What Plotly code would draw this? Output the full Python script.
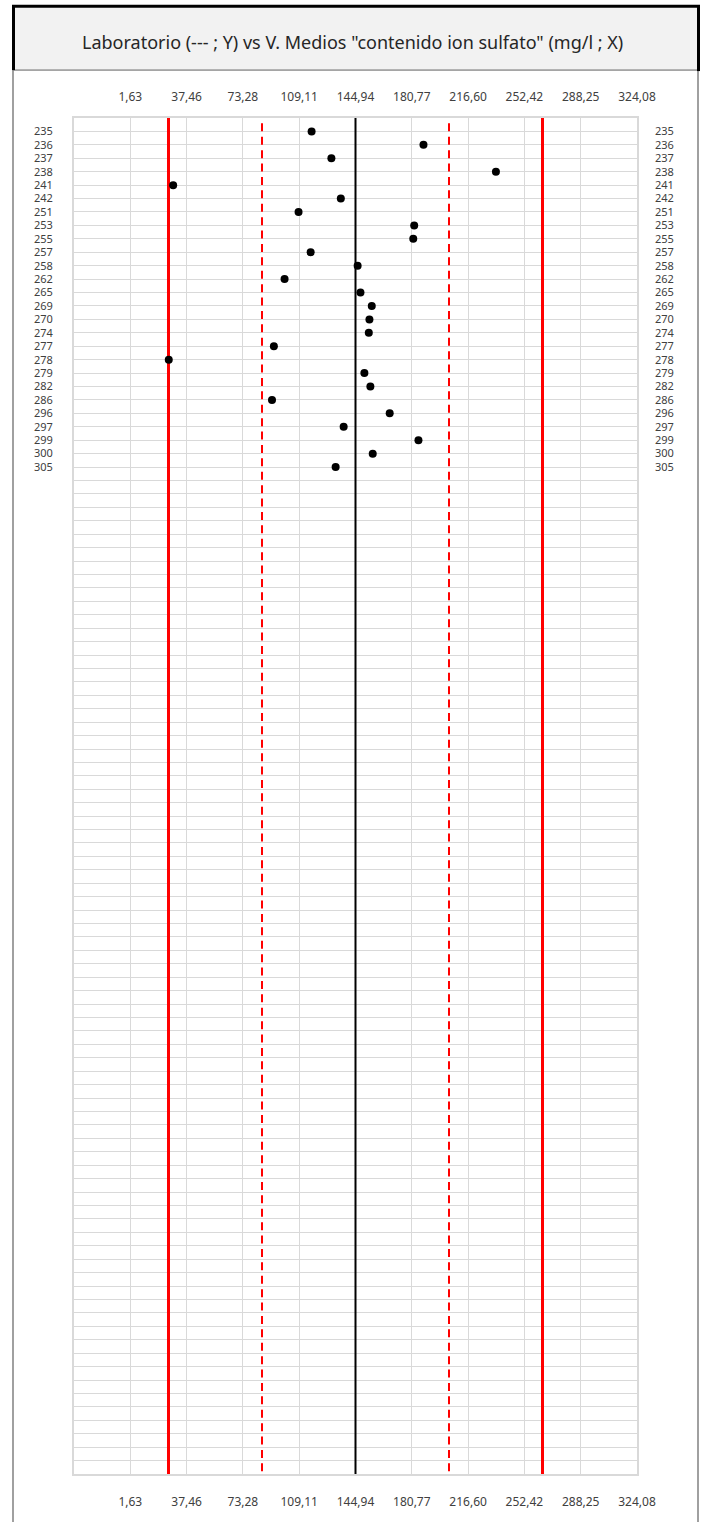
import plotly.graph_objects as go

# ---------------- data ----------------
labs = ["235", "236", "237", "238", "241", "242", "251", "253", "255", "257",
        "258", "262", "265", "269", "270", "274", "277", "278", "279", "282",
        "286", "296", "297", "299", "300", "305"]
values = [117.0, 188.2, 129.6, 234.3, 28.9, 135.6, 108.7, 182.3, 181.7, 116.4,
          146.3, 99.8, 148.1, 155.3, 153.8, 153.4, 93.0, 26.1, 150.6, 154.4,
          91.8, 166.7, 137.4, 185.0, 155.9, 132.3]

mean_value = 144.94
warn_limits = [85.44, 204.44]      # dashed red
action_limits = [25.94, 263.94]    # solid red

x_tick_values = [1.63, 37.46, 73.28, 109.11, 144.94, 180.77, 216.60, 252.42, 288.25, 324.08]
x_tick_labels = ["1,63", "37,46", "73,28", "109,11", "144,94", "180,77", "216,60", "252,42", "288,25", "324,08"]

n_rows = 100  # total rows in the chart grid

title_text = 'Laboratorio (--- ; Y) vs V. Medios "contenido ion sulfato" (mg/l ; X)'

# ---------------- geometry ----------------
W, H = 704, 1522
ML, MR, MT, MB = 74, 67, 118, 46
PW, PH = W - ML - MR, H - MT - MB

def pxx(px):
    return (px - ML) / PW

def pxy(py):
    return (H - MB - py) / PH

step = x_tick_values[1] - x_tick_values[0]
x_min = x_tick_values[0] - step
x_max = x_tick_values[-1]
y_rng = [n_rows, -1]

y_pos = list(range(len(labs)))
grid_vals = list(range(n_rows))
grid_text = [labs[i] if i < len(labs) else "" for i in grid_vals]

FONT = "Noto Sans"
TICKC = "#404040"
GRIDC = "#d9d9d9"

fig = go.Figure()

# reference lines
for v in action_limits:
    fig.add_trace(go.Scatter(x=[v, v], y=[-1, n_rows], mode="lines",
                             line=dict(color="#ff0000", width=3),
                             hoverinfo="skip", showlegend=False))
for v in warn_limits:
    fig.add_trace(go.Scatter(x=[v, v], y=[-0.6, n_rows], mode="lines",
                             line=dict(color="#ff0000", width=2, dash="8px,5.4px"),
                             hoverinfo="skip", showlegend=False))
fig.add_trace(go.Scatter(x=[mean_value, mean_value], y=[-1, n_rows], mode="lines",
                         line=dict(color="#000000", width=2),
                         hoverinfo="skip", showlegend=False))

# data points
fig.add_trace(go.Scatter(x=values, y=y_pos, mode="markers",
                         marker=dict(color="#000000", size=8),
                         text=labs, hovertemplate="%{text}: %{x}<extra></extra>",
                         showlegend=False))

# invisible trace for top / right axes
fig.add_trace(go.Scatter(x=[mean_value], y=[0], xaxis="x2", yaxis="y2", mode="markers",
                         marker=dict(opacity=0), hoverinfo="skip", showlegend=False))

x_font = dict(family=FONT, size=12, color=TICKC)
y_font = dict(family=FONT, size=11, color=TICKC)

fig.update_layout(
    width=W, height=H,
    margin=dict(l=ML, r=MR, t=MT, b=MB, pad=0),
    paper_bgcolor="white", plot_bgcolor="white",
    showlegend=False,
    xaxis=dict(range=[x_min, x_max], tickmode="array", tickvals=x_tick_values,
               ticktext=x_tick_labels, showgrid=True, gridcolor=GRIDC, gridwidth=1,
               showline=True, linecolor=GRIDC, linewidth=2, mirror=True,
               zeroline=False, ticks="", tickfont=x_font, ticklabelstandoff=16),
    xaxis2=dict(range=[x_min, x_max], overlaying="x", side="top", tickmode="array",
                tickvals=x_tick_values, ticktext=x_tick_labels, showgrid=False,
                showline=False, zeroline=False, ticks="", tickfont=x_font,
                ticklabelstandoff=14),
    yaxis=dict(range=y_rng, tickmode="array", tickvals=grid_vals, ticktext=grid_text,
               showgrid=True, gridcolor=GRIDC, gridwidth=1,
               showline=True, linecolor=GRIDC, linewidth=2, mirror=True,
               zeroline=False, ticks="", tickfont=y_font, ticklabelstandoff=17),
    yaxis2=dict(range=y_rng, overlaying="y", side="right", tickmode="array",
                tickvals=grid_vals, ticktext=grid_text, showgrid=False,
                showline=False, zeroline=False, ticks="", tickfont=y_font,
                ticklabelstandoff=17),
)

# frame shapes (decoration)
shapes = []
shapes.append(dict(type="line", xref="paper", yref="paper",
                   x0=pxx(13), x1=pxx(13), y0=pxy(70), y1=pxy(H + 2),
                   line=dict(color="#808080", width=1.5)))
shapes.append(dict(type="line", xref="paper", yref="paper",
                   x0=pxx(698), x1=pxx(698), y0=pxy(70), y1=pxy(H + 2),
                   line=dict(color="#a0a0a0", width=2)))
shapes.append(dict(type="rect", xref="paper", yref="paper",
                   x0=pxx(13.5), x1=pxx(698.5), y0=pxy(70), y1=pxy(6),
                   fillcolor="#f2f2f2", line=dict(width=0), layer="below"))
shapes.append(dict(type="line", xref="paper", yref="paper",
                   x0=pxx(13.5), x1=pxx(698.5), y0=pxy(70), y1=pxy(70),
                   line=dict(color="#606060", width=1)))
for (xa, ya, xb, yb) in [(12, 6, 700, 6), (13.5, 5, 13.5, 70), (698.5, 5, 698.5, 71)]:
    shapes.append(dict(type="line", xref="paper", yref="paper",
                       x0=pxx(xa), x1=pxx(xb), y0=pxy(ya), y1=pxy(yb),
                       line=dict(color="#000000", width=3)))
fig.update_layout(shapes=shapes)

fig.add_annotation(text=title_text, xref="paper", yref="paper",
                   x=pxx(352), y=pxy(42), xanchor="center", yanchor="middle",
                   showarrow=False, font=dict(family=FONT, size=18, color="#262626"))

fig.write_html("out.html")
